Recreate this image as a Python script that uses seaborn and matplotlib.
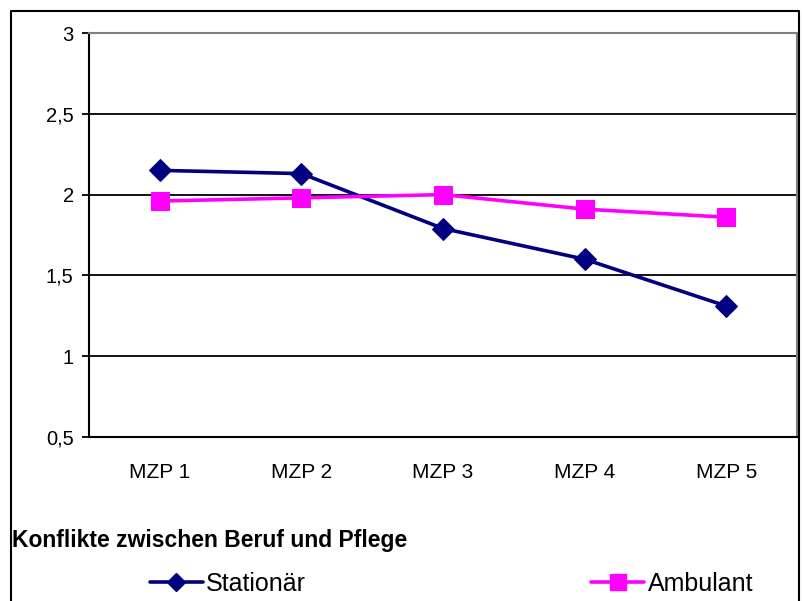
"""Konflikte zwischen Beruf und Pflege - Linienchart"""
import pandas as pd
import matplotlib.pyplot as plt
from matplotlib.lines import Line2D
import seaborn as sns

# Daten
zeitpunkte = ["MZP 1", "MZP 2", "MZP 3", "MZP 4", "MZP 5"]
stationaer = [2.15, 2.13, 1.79, 1.60, 1.31]
ambulant = [1.96, 1.98, 2.00, 1.91, 1.86]
y_ticks = [0.5, 1.0, 1.5, 2.0, 2.5, 3.0]
titel = "Konflikte zwischen Beruf und Pflege"

NAVY = "#000080"
MAGENTA = "#FF00FF"

sns.set_style("white")
plt.rcParams["font.family"] = ["Liberation Sans", "DejaVu Sans"]
for key in ["text.color", "xtick.color", "ytick.color", "axes.labelcolor"]:
    plt.rcParams[key] = "black"

df = pd.DataFrame({
    "MZP": zeitpunkte * 2,
    "Wert": stationaer + ambulant,
    "Gruppe": ["Stationär"] * len(zeitpunkte) + ["Ambulant"] * len(zeitpunkte),
})

fig = plt.figure(figsize=(8.02, 6.01), dpi=100)
ax = fig.add_axes([0.111, 0.273, 0.883, 0.672])

sns.lineplot(data=df[df["Gruppe"] == "Stationär"], x="MZP", y="Wert",
             color=NAVY, marker="D", markersize=11, linewidth=2.6,
             markeredgecolor=NAVY, ax=ax, legend=False)
sns.lineplot(data=df[df["Gruppe"] == "Ambulant"], x="MZP", y="Wert",
             color=MAGENTA, marker="s", markersize=13, linewidth=2.6,
             markeredgecolor=MAGENTA, ax=ax, legend=False)

ax.set_xlim(-0.5, len(zeitpunkte) - 0.5)
ax.set_ylim(0.5, 3.0)
ax.set_yticks(y_ticks)
ax.set_yticklabels([f"{v:g}".replace(".", ",") for v in y_ticks])
ax.set_xlabel("")
ax.set_ylabel("")

ax.set_axisbelow(True)
ax.yaxis.grid(True, color="black", linewidth=1.3)
ax.xaxis.grid(False)

for side in ["top", "right"]:
    ax.spines[side].set_color("#808080")
    ax.spines[side].set_linewidth(1.5)
for side in ["left", "bottom"]:
    ax.spines[side].set_color("black")
    ax.spines[side].set_linewidth(1.5)

# Kategorien-Ticks zwischen den Kategorien
ax.set_xticks([i - 0.5 for i in range(len(zeitpunkte) + 1)], minor=True)
ax.tick_params(axis="x", which="major", length=0, pad=19, labelsize=15)
ax.tick_params(axis="x", which="minor", length=5, width=1.3, direction="out", color="black")
ax.tick_params(axis="y", which="major", length=5, width=1.3, direction="out",
               color="black", pad=6, labelsize=14.5, left=True)

# äußerer Rahmen
rahmen_x = [11 / 802, 11 / 802, 799 / 802, 799 / 802]
rahmen_y = [-0.05, 1 - 11 / 601, 1 - 11 / 601, -0.05]
fig.add_artist(Line2D(rahmen_x, rahmen_y, color="black", linewidth=1.5,
                      transform=fig.transFigure))

fig.text(12 / 802, 1 - 541 / 601, titel, fontsize=16.5, fontweight="bold",
         ha="left", va="center")

handles = [
    Line2D([], [], color=NAVY, marker="D", markersize=9, linewidth=2.6),
    Line2D([], [], color=MAGENTA, marker="s", markersize=11, linewidth=2.6),
]
fig.legend(handles, ["Stationär", "Ambulant"], ncol=2, loc="center left",
           bbox_to_anchor=(140 / 802, 1 - 584 / 601), frameon=False,
           fontsize=18, handlelength=2.1, handletextpad=0.15,
           columnspacing=11.4, borderaxespad=0)

fig.savefig("out.png", dpi=100)
plt.close(fig)
